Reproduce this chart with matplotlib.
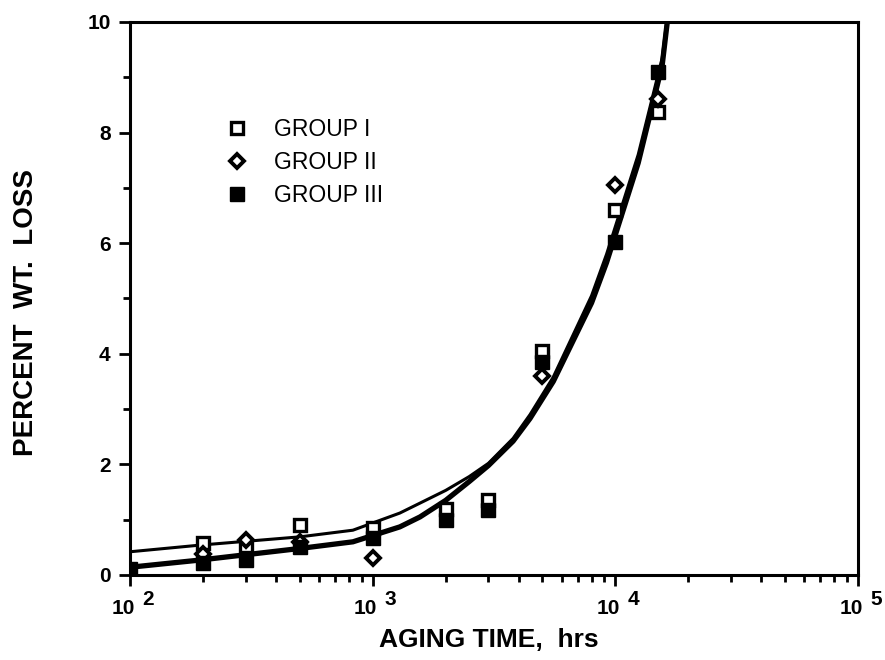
import matplotlib
matplotlib.use("Agg")
import matplotlib.pyplot as plt
from matplotlib.ticker import FixedLocator, LogLocator, NullFormatter

plt.rcParams['font.family'] = ['Liberation Sans', 'DejaVu Sans']

# ---- data ----
g1_t = [200, 300, 500, 1000, 2000, 3000, 5000, 10000, 15000]
g1_y = [0.58, 0.52, 0.9, 0.85, 1.2, 1.35, 4.05, 6.6, 8.38]

g2_t = [200, 300, 500, 1000, 5000, 10000, 15000]
g2_y = [0.38, 0.63, 0.6, 0.3, 3.59, 7.05, 8.6]

g3_t = [100, 200, 300, 500, 1000, 2000, 3000, 5000, 10000, 15000]
g3_y = [0.1, 0.22, 0.28, 0.5, 0.67, 1.0, 1.18, 3.85, 6.03, 9.1]

upper_t = [100, 194, 502, 829, 1294, 1567, 2000, 2500, 3000, 3790, 4450, 5550,
           7980, 9200, 12420, 15600, 16270, 16700]
upper_y = [0.42, 0.54, 0.69, 0.81, 1.12, 1.3, 1.53, 1.78, 2.02, 2.47, 2.9, 3.58,
           5.05, 5.8, 7.6, 9.35, 10.0, 10.4]

lower_t = [100, 194, 502, 829, 1294, 1567, 2000, 2500, 3000, 3790, 4450, 5550,
           7980, 9200, 12420, 15600, 16270, 16700]
lower_y = [0.14, 0.27, 0.48, 0.6, 0.87, 1.05, 1.35, 1.69, 1.98, 2.42, 2.83, 3.5,
           4.92, 5.65, 7.45, 9.22, 9.9, 10.3]

x_major = [1e2, 1e3, 1e4, 1e5]
x_base = ['10', '10', '10', '10']
x_exp = ['2', '3', '4', '5']
y_major = [0, 2, 4, 6, 8, 10]
y_minor = [1, 3, 5, 7, 9]

fig = plt.figure(figsize=(8.85, 6.6), dpi=100)
ax = fig.add_axes([0.1469, 0.1288, 0.8226, 0.8379])

ax.plot(upper_t, upper_y, color='black', lw=2.2, solid_capstyle='butt', zorder=2)
ax.plot(lower_t, lower_y, color='black', lw=3.8, solid_capstyle='butt', zorder=2)

ax.plot(g1_t, g1_y, ls='none', marker='s', ms=9, mfc='white', mec='black', mew=2.4,
        label='GROUP I', zorder=3)
ax.plot(g2_t, g2_y, ls='none', marker='D', ms=7.5, mfc='white', mec='black', mew=2.8,
        label='GROUP II', zorder=3)
ax.plot(g3_t, g3_y, ls='none', marker='s', ms=10, mfc='black', mec='black', mew=1,
        label='GROUP III', zorder=4)

ax.set_xscale('log')
ax.set_xlim(1e2, 1e5)
ax.set_ylim(0, 10)

ax.xaxis.set_major_locator(FixedLocator(x_major))
ax.xaxis.set_major_formatter(NullFormatter())
ax.xaxis.set_minor_locator(LogLocator(base=10, subs=range(2, 10)))
ax.xaxis.set_minor_formatter(NullFormatter())
ax.yaxis.set_major_locator(FixedLocator(y_major))
ax.yaxis.set_minor_locator(FixedLocator(y_minor))

for s in ax.spines.values():
    s.set_linewidth(2.2)

ax.tick_params(which='major', direction='out', length=8, width=2, labelsize=15,
               pad=6)
ax.tick_params(which='minor', direction='out', length=5, width=2)
for lab in ax.get_yticklabels():
    lab.set_fontweight('bold')

# x tick labels: "10" with a full-size raised exponent
for t, b, e in zip(x_major, x_base, x_exp):
    ax.annotate(b, xy=(t, 0), xycoords=('data', 'axes fraction'),
                xytext=(-5, -17), textcoords='offset points',
                ha='center', va='top', fontsize=15, fontweight='bold',
                annotation_clip=False)
    ax.annotate(e, xy=(t, 0), xycoords=('data', 'axes fraction'),
                xytext=(13, -11), textcoords='offset points',
                ha='center', va='top', fontsize=15, fontweight='bold',
                annotation_clip=False)

ax.set_xlabel('AGING TIME,  hrs', fontsize=19, fontweight='bold')
ax.xaxis.set_label_coords(0.493, -0.095)
ax.set_ylabel('PERCENT  WT.  LOSS', fontsize=20, fontweight='bold')
ax.yaxis.set_label_coords(-0.125, 0.475)

leg = ax.legend(loc='upper left', bbox_to_anchor=(0.104, 0.864), frameon=False,
                fontsize=16.5, handletextpad=1.2, labelspacing=0.45,
                handlelength=0.9)

fig.savefig('out.png', dpi=100)
